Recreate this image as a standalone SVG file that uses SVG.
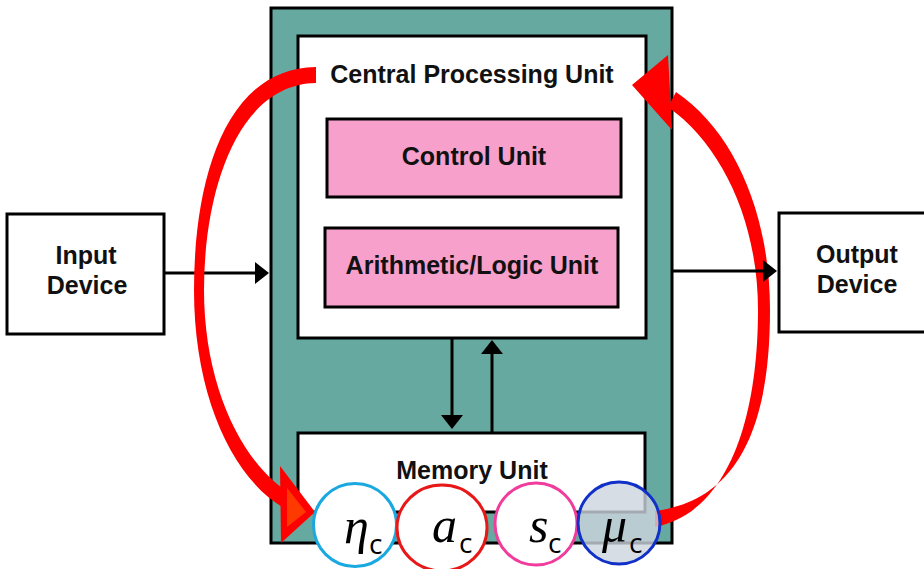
<svg xmlns="http://www.w3.org/2000/svg" width="924" height="569" viewBox="0 0 924 569">
  <style>
    .box { stroke: #000; stroke-width: 3; }
    .label { font-family: "Liberation Sans", Arial, sans-serif; font-weight: bold; font-size: 25px; fill: #111; text-anchor: middle; }
    .wire { stroke: #000; stroke-width: 3; fill: none; }
    .sym { font-family: "Liberation Serif", "DejaVu Serif", serif; font-style: italic; font-size: 50px; fill: #000; }
    .sub { font-family: "Open Sans", "Liberation Sans", sans-serif; font-size: 28px; fill: #000; }
    .flow { fill: #ff0000; }
  </style>
  <defs>
    <marker id="head" viewBox="0 0 14 22" refX="7" refY="11" markerWidth="14" markerHeight="22" markerUnits="userSpaceOnUse" orient="auto">
      <path d="M0,0 L14,11 L0,22 Z" fill="#000"/>
    </marker>
  </defs>

  <rect width="924" height="569" fill="#fff"/>

  <!-- computer enclosure -->
  <g id="computer">
    <rect class="box" x="271" y="8" width="401" height="535" fill="#66a9a0"/>
  </g>

  <g id="cpu">
    <rect class="box" x="298" y="36" width="348" height="302" fill="#fff"/>
    <text class="label" x="472" y="83">Central Processing Unit</text>
  </g>

  <g id="control-unit">
    <rect class="box" x="327" y="119" width="294" height="78" fill="#f8a0cc"/>
    <text class="label" x="474" y="165">Control Unit</text>
  </g>

  <g id="alu">
    <rect class="box" x="325" y="228" width="293" height="79" fill="#f8a0cc"/>
    <text class="label" x="472" y="274">Arithmetic/Logic Unit</text>
  </g>

  <g id="memory-unit">
    <rect class="box" x="298" y="433" width="347" height="79" fill="#fff"/>
    <text class="label" x="472" y="479">Memory Unit</text>
  </g>

  <g id="input-device">
    <rect class="box" x="7" y="214" width="157" height="120" fill="#fff"/>
    <text class="label" x="86" y="264">Input</text>
    <text class="label" x="87" y="294">Device</text>
  </g>

  <g id="output-device">
    <rect class="box" x="779" y="213" width="160" height="119" fill="#fff"/>
    <text class="label" x="857" y="263">Output</text>
    <text class="label" x="857" y="293">Device</text>
  </g>

  <g id="connectors">
    <!-- data paths -->
    <line class="wire" x1="164" y1="273" x2="262" y2="273" marker-end="url(#head)"/>
    <line class="wire" x1="452" y1="338" x2="452" y2="422" marker-end="url(#head)"/>
    <line class="wire" x1="492" y1="432" x2="492" y2="347" marker-end="url(#head)"/>

    <!-- feedback loop: CPU to eta -->
    <path class="flow" d="M316,67 C225,68 194,180 194,290 C194,395 232,478 284,508 L293,495 C245,468 204,390 204,290 C204,190 238,84 316,83 Z"/>
    <polygon points="280,466 315,512 281,543" fill="#ff0000"/>
    <polygon points="287,488 306,512 287,527" fill="#ff3a00"/>

    <!-- feedback loop: mu to CPU -->
    <path class="flow" d="M655,511 C742,500 770,420 770,310 C770,215 735,132 676,92 L668,107 C722,145 758,222 758,310 C758,415 730,512 655,527 Z"/>
    <polygon points="632,85 668,55 672,130" fill="#ff0000"/>

    <line class="wire" x1="673" y1="271" x2="770" y2="271" marker-end="url(#head)"/>
  </g>

  <!-- parameter nodes -->
  <g id="eta">
    <circle cx="355" cy="525" r="41.5" fill="#fff" stroke="#1aa8e0" stroke-width="3"/>
    <text class="sym" x="344" y="543">η</text>
    <text class="sub" x="369" y="554">c</text>
  </g>
  <g id="alpha">
    <ellipse cx="442" cy="528" rx="45" ry="43" fill="#fff" stroke="#e81818" stroke-width="3"/>
    <text class="sym" x="432" y="542">a</text>
    <text class="sub" x="459" y="553">c</text>
  </g>
  <g id="sigma">
    <circle cx="536" cy="524" r="41" fill="#fff" stroke="#f03c9c" stroke-width="3"/>
    <text class="sym" x="529" y="542">s</text>
    <text class="sub" x="548" y="553">c</text>
  </g>
  <g id="mu">
    <circle cx="619" cy="523" r="41" fill="#cdd4de" fill-opacity="0.8" stroke="#1030c8" stroke-width="3"/>
    <text class="sym" x="602" y="542">μ</text>
    <text class="sub" x="629" y="553">c</text>
  </g>
</svg>
